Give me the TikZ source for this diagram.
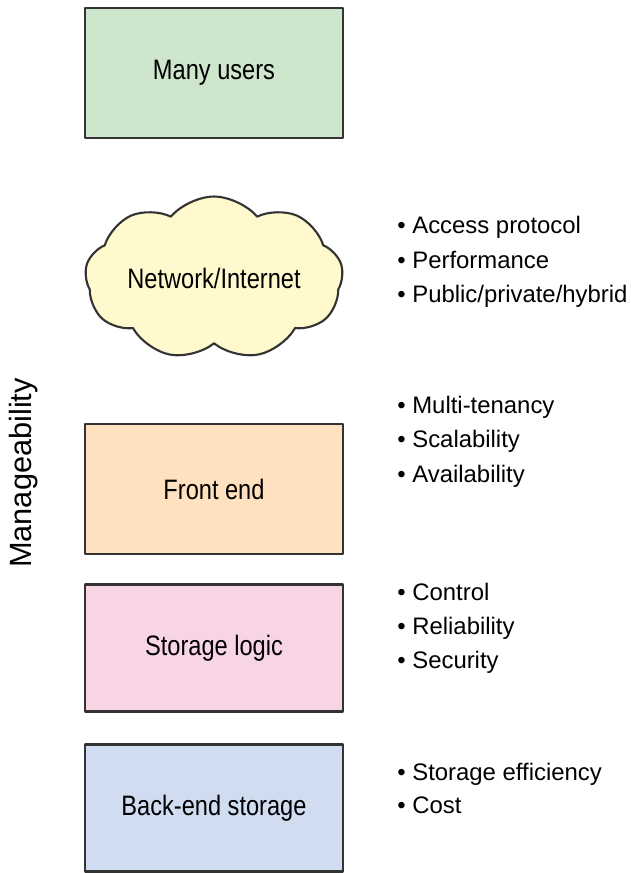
\documentclass[tikz,border=0pt]{standalone}
\usepackage{fontspec}
\setmainfont{Liberation Sans}
\newfontfamily\boxfont{Liberation Sans}[FakeStretch=0.84]
\usetikzlibrary{shapes.symbols}
\definecolor{usergreen}{HTML}{CDE6CC}
\definecolor{netyellow}{HTML}{FFF9CD}
\definecolor{frontpeach}{HTML}{FFE0BF}
\definecolor{logicpink}{HTML}{F8D5E5}
\definecolor{backblue}{HTML}{D0DDF0}
\definecolor{edgegray}{HTML}{333333}
\begin{document}
\begin{tikzpicture}[x=0.02cm,y=-0.02cm,line join=round,
		layer/.style={draw=edgegray,line width=1.2pt,minimum width=5.16cm,inner sep=0pt,font=\boxfont\fontsize{16}{18}\selectfont},
		item/.style={anchor=base west,inner sep=0pt,font=\fontsize{13.6}{16}\selectfont}]
	\useasboundingbox (0,0) rectangle (631,873);
	\node[layer,fill=usergreen,minimum height=2.6cm] (users) at (214,73) {Many users};
	\node[layer,cloud,cloud puffs=9,cloud puff arc=100,cloud ignores aspect,fill=netyellow,minimum height=3.26cm,shape border rotate=10] (net) at (214,278) {Network/Internet};
	\node[layer,fill=frontpeach,minimum height=2.6cm] (front) at (214,489) {Front end};
	\node[layer,fill=logicpink,minimum height=2.54cm] (logic) at (214,648) {Storage logic};
	\node[layer,fill=backblue,minimum height=2.54cm] (back) at (214,808) {Back-end storage};
	\node[rotate=90,inner sep=0pt,font=\fontsize{17.5}{20}\selectfont] (manage) at (24,473) {Manageability};

	\foreach \n/\y/\t in {a/233/Access protocol,b/268/Performance,c/302/{Public/private/hybrid},d/413/Multi-tenancy,e/447/Scalability,f/482/Availability,g/600/Control,h/634/Reliability,i/668/Security,j/780/Storage efficiency,k/813/Cost}
		\node[item] (item\n) at (397,\y) {\textbullet\ \t};
\end{tikzpicture}
\end{document}
